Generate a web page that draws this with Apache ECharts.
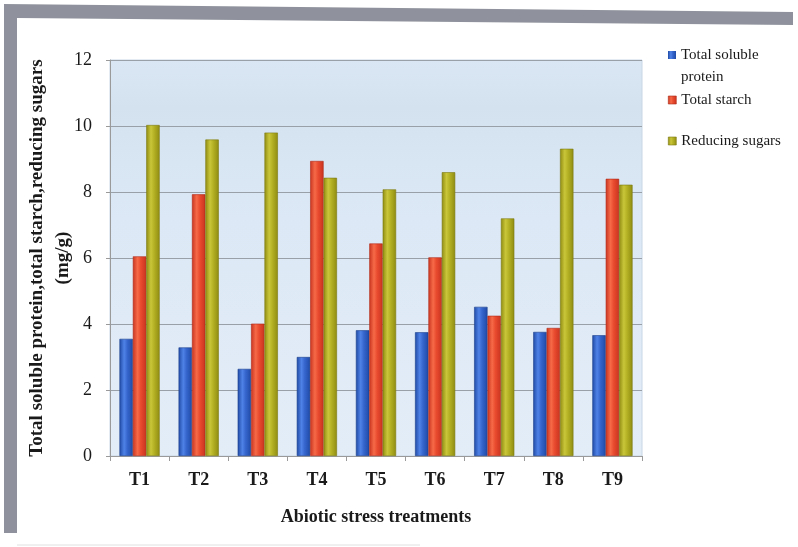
<!DOCTYPE html>
<html>
<head>
<meta charset="utf-8">
<script src="https://cdn.jsdelivr.net/npm/echarts@6/dist/echarts.min.js"></script>
<style>
html,body{margin:0;padding:0;background:#fff;}
#chart{width:798px;height:547px;}
</style>
</head>
<body>
<div id="chart"></div>
<script>
const categories = ['T1','T2','T3','T4','T5','T6','T7','T8','T9'];
const seriesNames = ['Total soluble protein','Total starch','Reducing sugars'];
const proteinValues = [3.55, 3.29, 2.64, 3.0, 3.81, 3.75, 4.52, 3.76, 3.66];
const starchValues  = [6.05, 7.93, 4.01, 8.94, 6.44, 6.02, 4.25, 3.88, 8.40];
const sugarValues   = [10.03, 9.59, 9.80, 8.43, 8.08, 8.60, 7.20, 9.31, 8.22];
const yTicks = [0, 2, 4, 6, 8, 10, 12];

const chart = echarts.init(document.getElementById('chart'), null, {renderer:'canvas'});
const serif = '"Liberation Serif","DejaVu Serif",serif';

function cyl(dark, mid, light) {
  return new echarts.graphic.LinearGradient(0,0,1,0,[
    {offset:0, color:dark},{offset:0.35, color:light},{offset:0.6, color:mid},{offset:1, color:dark}
  ]);
}
const colors = [
  {fill: cyl('#1f4aa6','#3565cc','#4f82e6'), solid:'#3565cc', border:'#1c3f8c'},
  {fill: cyl('#c93420','#e84a2e','#f66a48'), solid:'#e84a2e', border:'#b02a18'},
  {fill: cyl('#8f8c12','#b3b024','#cac63a'), solid:'#b3b024', border:'#7c7a10'}
];
const dataSets = [proteinValues, starchValues, sugarValues];

const series = dataSets.map((d,i)=>({
  name: seriesNames[i],
  type: 'bar',
  data: d,
  barGap: '0%',
  barCategoryGap: '32%',
  itemStyle: {color: colors[i].fill, borderColor: colors[i].border, borderWidth: 0.6},
  emphasis: {disabled: true}
}));

const legendBase = {
  left: 668, padding: 0, itemWidth: 8, itemHeight: 8, icon: 'rect',
  selectedMode: false,
  itemStyle: {borderWidth: 0.6}
};
const legendText = {fontFamily: serif, fontSize: 15, color:'#1a1a1a', lineHeight: 22};

chart.setOption({
  animation: false,
  backgroundColor: '#ffffff',
  color: colors.map(c=>c.solid),
  graphic: [
    {type:'polygon', shape:{points:[[4,4],[793,12],[793,25],[17,18],[17,533],[4,533]]},
     style:{fill:'#8f929c'}, silent:true},
    {type:'line', shape:{x1:17,y1:545,x2:420,y2:545}, style:{stroke:'#e0e0e0', lineWidth:1}, silent:true}
  ],
  legend: [
    Object.assign({}, legendBase, {
      top: 44, data: [seriesNames[0]],
      itemHeight: 30, symbolKeepAspect: false,
      icon: 'path://M0,0L8,0L8,8L0,8Z M0,30L8,30',
      itemStyle: {borderWidth: 0},
      formatter: () => 'Total soluble\nprotein',
      textStyle: legendText
    }),
    Object.assign({}, legendBase, {
      top: 89, data: [seriesNames[1]],
      textStyle: legendText
    }),
    Object.assign({}, legendBase, {
      top: 130, data: [seriesNames[2]],
      textStyle: legendText
    })
  ],
  grid: {
    left: 110, top: 60, width: 532, height: 396,
    show: true,
    backgroundColor: new echarts.graphic.LinearGradient(0,0,0,1,[
      {offset:0, color:'#dae6f3'},{offset:0.12, color:'#d4e2f0'},{offset:0.4, color:'#dce8f5'},{offset:1, color:'#e3edf8'}
    ]),
    borderColor: '#c9d6e4', borderWidth: 1
  },
  xAxis: {
    type: 'category',
    data: categories,
    name: 'Abiotic stress treatments',
    nameLocation: 'middle',
    nameGap: 52,
    nameTextStyle: {fontFamily: serif, fontSize: 18, fontWeight: 'bold', color:'#1a1a1a'},
    axisLine: {show: true, lineStyle: {color: '#9a9a9a', width: 1}},
    axisTick: {show: true, length: 5, lineStyle: {color:'#9a9a9a'}},
    axisLabel: {fontFamily: serif, fontSize: 18, fontWeight: 'bold', color:'#1a1a1a', margin: 15},
    splitLine: {show: false}
  },
  yAxis: {
    type: 'value',
    min: yTicks[0], max: yTicks[yTicks.length-1], interval: 2,
    name: 'Total soluble protein,total starch,reducing sugars\n(mg/g)',
    nameLocation: 'middle',
    nameGap: 34,
    nameMoveOverlap: false,
    nameTextStyle: {fontFamily: serif, fontSize: 19, fontWeight: 'bold', color:'#1a1a1a', lineHeight: 26},
    axisLine: {show: true, lineStyle: {color: '#9a9a9a', width: 1}},
    axisTick: {show: true, length: 4, lineStyle: {color:'#9a9a9a'}},
    axisLabel: {fontFamily: serif, fontSize: 18, color:'#1a1a1a', margin: 18},
    splitLine: {show: true, lineStyle: {color: '#9aa0a8', width: 1}}
  },
  series: series
});
</script>
</body>
</html>
